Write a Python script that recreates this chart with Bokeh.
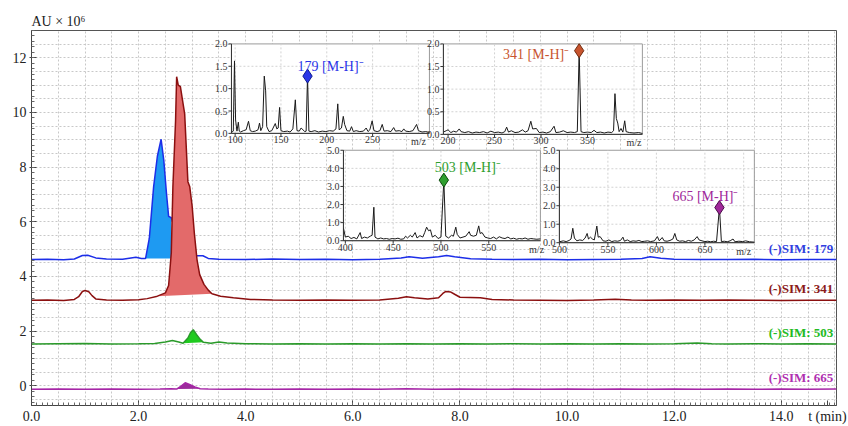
import numpy as np
from bokeh.plotting import figure
from bokeh.models import Range1d, SingleIntervalTicker, FixedTicker, PrintfTickFormatter
from bokeh.core.properties import value
from bokeh.embed import file_html
from bokeh.resources import INLINE

# ---------------- chromatogram data (t in min, AU x 1e6) ----------------
BLUE_T = [0.0, 0.3, 0.6, 0.8, 0.95, 1.05, 1.2, 1.4, 1.7, 1.95, 2.05, 2.13, 2.2, 2.28, 2.35, 2.42, 2.47, 2.52, 2.56, 2.61,
          2.7, 2.85, 3.0, 3.09, 3.2, 3.3, 3.5, 4.0, 4.5, 5.0, 5.5, 6.0, 6.5, 6.9, 7.05, 7.3, 7.6, 7.75, 7.9, 8.2,
          8.6, 9.0, 9.5, 10.0, 10.5, 11.0, 11.4, 11.55, 11.75, 12.0, 12.5, 13.0, 13.5, 14.0, 14.5, 15.03]
BLUE_V = [4.62, 4.63, 4.61, 4.64, 4.77, 4.78, 4.68, 4.64, 4.63, 4.70, 4.66, 4.66, 5.4, 7.28, 8.4, 9.02, 8.25, 7.04, 6.2, 6.15,
          5.6, 5.1, 4.85, 4.76, 4.76, 4.66, 4.63, 4.62, 4.64, 4.62, 4.63, 4.61, 4.63, 4.68, 4.72, 4.67, 4.72, 4.77, 4.72, 4.65,
          4.63, 4.62, 4.63, 4.61, 4.62, 4.63, 4.66, 4.72, 4.67, 4.63, 4.62, 4.62, 4.63, 4.61, 4.62, 4.62]

RED_T = [0.0, 0.3, 0.6, 0.8, 0.88, 0.95, 1.0, 1.07, 1.13, 1.2, 1.4, 1.7, 2.0, 2.16, 2.35, 2.5, 2.56, 2.61, 2.64, 2.69,
         2.71, 2.74, 2.78, 2.82, 2.86, 2.92, 2.955, 3.0, 3.04, 3.09, 3.14, 3.22, 3.3, 3.37, 3.53, 3.77, 4.09, 4.5, 5.0, 5.5,
         6.0, 6.5, 6.85, 7.0, 7.15, 7.4, 7.6, 7.68, 7.73, 7.83, 7.9, 8.0, 8.38, 8.6, 9.0, 9.5, 10.0, 10.5, 10.9, 11.2,
         11.5, 12.0, 12.5, 13.0, 13.5, 14.0, 14.5, 15.03]
RED_V = [3.13, 3.14, 3.12, 3.16, 3.26, 3.45, 3.49, 3.44, 3.3, 3.18, 3.14, 3.13, 3.15, 3.19, 3.28, 3.40, 3.67, 4.86, 7.28, 9.71,
         11.31, 11.0, 10.95, 10.44, 9.95, 7.47, 7.28, 6.56, 5.59, 4.62, 4.07, 3.71, 3.5, 3.37, 3.28, 3.22, 3.16, 3.14, 3.13, 3.14,
         3.13, 3.14, 3.2, 3.26, 3.22, 3.18, 3.22, 3.38, 3.45, 3.43, 3.35, 3.24, 3.22, 3.16, 3.14, 3.13, 3.12, 3.14, 3.17, 3.14,
         3.13, 3.14, 3.13, 3.14, 3.13, 3.12, 3.13, 3.13]

GREEN_T = [0.0, 0.5, 1.0, 1.5, 2.0, 2.3, 2.5, 2.63, 2.75, 2.83, 2.92, 2.97, 3.02, 3.08, 3.15, 3.21, 3.35, 3.5, 3.65, 4.0,
           4.5, 5.0, 5.5, 6.0, 6.5, 7.0, 7.5, 8.0, 8.5, 9.0, 9.5, 10.0, 10.5, 11.0, 11.5, 12.0, 12.43, 12.7, 13.0, 13.5,
           14.0, 14.5, 15.03]
GREEN_V = [1.53, 1.54, 1.55, 1.53, 1.54, 1.55, 1.60, 1.66, 1.60, 1.56, 1.75, 1.95, 2.05, 1.88, 1.70, 1.59, 1.56, 1.60, 1.57, 1.54,
           1.53, 1.54, 1.53, 1.54, 1.53, 1.54, 1.53, 1.54, 1.53, 1.54, 1.53, 1.54, 1.53, 1.54, 1.53, 1.54, 1.57, 1.54, 1.53, 1.54,
           1.53, 1.54, 1.53]

PURPLE_T = [0.0, 0.5, 1.0, 1.5, 2.0, 2.4, 2.6, 2.71, 2.8, 2.87, 2.95, 3.05, 3.15, 3.3, 3.6, 4.0, 4.5, 5.0, 5.5, 6.0,
            6.5, 7.0, 7.5, 8.0, 8.5, 9.0, 9.5, 10.0, 10.5, 11.0, 11.5, 12.0, 12.5, 13.0, 13.5, 14.0, 14.5, 15.03]
PURPLE_V = [-0.13, -0.12, -0.13, -0.12, -0.13, -0.12, -0.11, -0.12, 0.0, 0.11, 0.05, -0.04, -0.11, -0.12, -0.13, -0.12, -0.13, -0.12, -0.13, -0.12,
            -0.13, -0.11, -0.13, -0.12, -0.13, -0.12, -0.13, -0.12, -0.13, -0.12, -0.13, -0.12, -0.13, -0.12, -0.13, -0.12, -0.13, -0.12]

SIM_LABELS = ["(-)SIM: 179", "(-)SIM: 341", "(-)SIM: 503", "(-)SIM: 665"]
X_TICKS = [0, 2, 4, 6, 8, 10, 12, 14]
X_UNIT_LABEL = "t (min)"

# ---------------- mass spectra (m/z, intensity) ----------------
MS179_MZ = [96, 98, 99.3, 100.5, 102, 103.5, 104.5, 106, 109, 112, 114.6, 116.5, 119, 122, 125, 126.6, 128, 130, 131.8, 133.3,
            134.5, 137, 140, 143.8, 145.5, 147, 148.5, 150, 153, 157, 160, 163, 165.7, 167.5, 170, 172, 174, 176, 177.5, 179,
            180.5, 183, 187, 191, 195, 199, 203, 207, 210, 212, 213.5, 216, 218, 219.5, 222, 225, 227, 229, 232, 236,
            240, 243, 245, 247, 249.5, 251.5, 255, 258, 260.5, 262.5, 266, 270, 273, 275, 279, 282, 284, 286, 290, 294,
            298, 300, 304, 308, 312]
MS179_I = [0.02, 0.05, 1.62, 0.3, 0.05, 0.25, 0.05, 0.03, 0.06, 0.08, 0.27, 0.06, 0.04, 0.05, 0.08, 0.23, 0.06, 0.15, 1.28, 0.95,
           0.15, 0.04, 0.06, 0.22, 0.1, 0.12, 0.58, 0.06, 0.04, 0.05, 0.03, 0.1, 0.75, 0.06, 0.05, 0.12, 0.08, 0.04, 0.05, 1.28,
           0.05, 0.04, 0.06, 0.03, 0.05, 0.04, 0.06, 0.05, 0.1, 0.66, 0.08, 0.12, 0.38, 0.2, 0.06, 0.05, 0.15, 0.04, 0.06, 0.04,
           0.05, 0.12, 0.04, 0.08, 0.28, 0.06, 0.04, 0.06, 0.2, 0.05, 0.06, 0.04, 0.13, 0.05, 0.06, 0.04, 0.1, 0.05, 0.04, 0.06,
           0.2, 0.06, 0.03, 0.04, 0.02]

MS341_MZ = [195, 198, 200, 203, 206, 209, 212, 214, 218, 222, 226, 230, 234, 238, 242, 246, 250, 254, 258, 261,
            263, 265, 268, 272, 276, 280, 283, 286, 289, 291, 295, 298, 302, 306, 310, 314, 316, 320, 324, 328,
            332, 336, 339, 341, 343, 346, 350, 354, 357, 360, 364, 368, 372, 376, 378, 379.5, 381, 382.5, 384, 386,
            388, 390, 391.5, 395, 400, 405, 409]
MS341_I = [0.05, 0.08, 0.1, 0.04, 0.07, 0.05, 0.12, 0.06, 0.04, 0.06, 0.03, 0.05, 0.04, 0.06, 0.03, 0.07, 0.04, 0.05, 0.03, 0.06,
           0.16, 0.05, 0.08, 0.04, 0.05, 0.1, 0.05, 0.08, 0.29, 0.12, 0.13, 0.04, 0.05, 0.03, 0.06, 0.18, 0.04, 0.05, 0.08, 0.04,
           0.05, 0.04, 0.06, 1.85, 0.06, 0.04, 0.05, 0.04, 0.09, 0.04, 0.05, 0.03, 0.05, 0.04, 0.08, 0.9, 0.35, 0.25, 0.06, 0.13,
           0.05, 0.3, 0.06, 0.04, 0.03, 0.04, 0.02]

MS503_MZ = [398, 400, 403, 406, 409, 412, 415.5, 417, 420, 423, 426, 428, 429.8, 431, 434, 437, 440, 443, 446, 449,
            452, 455, 458, 461, 463, 465, 468, 470, 473, 475, 478, 481, 483, 485, 487, 489, 491, 494, 497, 500,
            503, 505, 508, 511, 513, 515.5, 517, 520, 523, 526, 529.5, 531, 534, 537, 539.5, 541, 543, 546, 549, 552,
            555, 558, 561, 564, 567, 570, 573, 576, 579, 582, 585, 588, 591, 594, 597, 600, 604]
MS503_I = [0.7, 0.2, 0.25, 0.12, 0.18, 0.1, 0.45, 0.12, 0.2, 0.15, 0.25, 0.3, 1.85, 0.2, 0.1, 0.15, 0.1, 0.12, 0.08, 0.12,
           0.1, 0.14, 0.08, 0.1, 0.25, 0.15, 0.3, 0.2, 0.45, 0.15, 0.28, 0.2, 0.45, 0.75, 0.55, 0.6, 0.2, 0.3, 0.12, 0.2,
           3.35, 0.25, 0.15, 0.3, 0.25, 0.75, 0.35, 0.15, 0.2, 0.25, 0.5, 0.3, 0.25, 0.3, 0.82, 0.4, 0.45, 0.2, 0.15, 0.12,
           0.2, 0.1, 0.22, 0.15, 0.12, 0.2, 0.1, 0.14, 0.08, 0.12, 0.1, 0.15, 0.08, 0.12, 0.1, 0.08, 0.1]

MS665_MZ = [500, 504, 507, 510, 512, 513.8, 515.5, 518, 521, 524, 526.5, 528.6, 530, 532, 534, 536, 538.6, 540, 542, 545,
            548, 551, 554, 557, 560, 563, 565.5, 567, 570, 573, 576, 579, 582, 585, 588, 591, 594, 598, 601, 603,
            606, 608, 611, 614, 617, 619, 621, 624, 627, 630, 633, 636, 639, 642, 644, 647, 650, 653, 656, 659,
            662, 665, 667, 670, 673, 676, 679, 681, 685, 689, 692, 696, 701]
MS665_I = [0.05, 0.1, 0.06, 0.12, 0.2, 0.78, 0.25, 0.1, 0.15, 0.12, 0.25, 0.5, 0.2, 0.3, 0.2, 0.15, 0.9, 0.3, 0.33, 0.1,
           0.08, 0.15, 0.06, 0.1, 0.08, 0.12, 0.3, 0.08, 0.15, 0.06, 0.1, 0.08, 0.12, 0.06, 0.08, 0.1, 0.06, 0.1, 0.33, 0.1,
           0.28, 0.1, 0.08, 0.12, 0.2, 0.5, 0.15, 0.08, 0.1, 0.06, 0.12, 0.08, 0.15, 0.33, 0.15, 0.1, 0.06, 0.08, 0.05, 0.08,
           0.06, 1.9, 0.06, 0.08, 0.05, 0.1, 0.2, 0.05, 0.08, 0.06, 0.1, 0.05, 0.03]

PEAK_MZ = [179, 341, 503, 665]
PEAK_I = [1.28, 1.85, 3.35, 1.9]
PEAK_LABELS = ["179 [M-H]\u207b", "341 [M-H]\u207b", "503 [M-H]\u207b", "665 [M-H]\u207b"]

SERIF = "Liberation Serif"

# ---------------- main figure ----------------
p = figure(width=848, height=426, x_range=Range1d(0, 15.03), y_range=Range1d(-0.72, 13.0),
           output_backend="svg", toolbar_location=None,
           min_border_left=31, min_border_right=12, min_border_top=30, min_border_bottom=0)
p.title.text = "AU \u00d7 10\u2076"
p.title.text_font = SERIF
p.title.text_font_size = "14px"
p.title.text_font_style = "normal"
p.title.text_color = "#222222"
p.title.align = "left"
p.title.standoff = 4
p.outline_line_color = "#555555"

# unit label sits in the tick-label row, right of the last tick
UNIT_POS = 14.86
p.xaxis.ticker = FixedTicker(ticks=X_TICKS + [UNIT_POS], minor_ticks=[i / 10 for i in range(0, 151)])
p.xaxis.major_label_overrides = {UNIT_POS: X_UNIT_LABEL}
p.yaxis.ticker = SingleIntervalTicker(interval=2, num_minor_ticks=10)
p.xaxis.formatter = PrintfTickFormatter(format="%.1f")
for ax in (p.xaxis, p.yaxis):
    ax.major_label_text_font = SERIF
    ax.major_label_text_font_size = "14px"
    ax.major_label_text_color = "#222222"
    ax.axis_line_color = "#444444"
    ax.major_tick_line_color = "#444444"
    ax.minor_tick_line_color = "#666666"
    ax.major_tick_in = 5
    ax.minor_tick_in = 3
    ax.minor_tick_out = 0
p.xaxis.major_tick_out = 0
p.xaxis.major_label_standoff = 3
p.yaxis.major_tick_out = 2
p.yaxis.major_label_standoff = 3

p.xgrid.ticker = SingleIntervalTicker(interval=0.5)
p.ygrid.ticker = SingleIntervalTicker(interval=0.5)
for g in (p.xgrid, p.ygrid):
    g.grid_line_color = "#c8c8c8"
    g.grid_line_dash = "2 2"
    g.grid_line_width = 1


def window(ts, vs, t0, t1):
    xs = [t for t in ts if t0 <= t <= t1]
    ys = [v for t, v in zip(ts, vs) if t0 <= t <= t1]
    return xs, ys


# blue (179)
bx, by = window(BLUE_T, BLUE_V, 2.13, 2.61)
p.patch(bx + [bx[-1]], by + [by[0]], fill_color="#1e9af2", line_color=None)
p.line(BLUE_T, BLUE_V, line_color="#1c2ee8", line_width=1.5)
# red (341)
rx, ry = window(RED_T, RED_V, 2.35, 3.37)
p.patch(rx, ry, fill_color="#e36a6a", line_color=None)
p.line(RED_T, RED_V, line_color="#8b1010", line_width=1.5)
# green (503)
gx, gy = window(GREEN_T, GREEN_V, 2.83, 3.21)
p.patch(gx, gy, fill_color="#1fcb1f", line_color=None)
p.line(GREEN_T, GREEN_V, line_color="#2a9a2a", line_width=1.5)
# purple (665)
mx, my = window(PURPLE_T, PURPLE_V, 2.71, 3.15)
p.patch(mx, my, fill_color="#9c2c9c", line_color=None)
p.line(PURPLE_T, PURPLE_V, line_color="#a626a6", line_width=1.5)

sim_colors = ["#3040e0", "#8b1a1a", "#22bb22", "#b030b0"]
last_vals = [BLUE_V[-1], RED_V[-1], GREEN_V[-1], PURPLE_V[-1]]
p.text(x=[14.97] * 4, y=last_vals, text=SIM_LABELS, text_color=sim_colors,
       text_align="right", text_baseline="bottom", y_offset=-4,
       text_font=value(SERIF), text_font_size="13px", text_font_style="bold")


# ---------------- insets ----------------
def px_t(px):
    return (px - 31.0) / 53.57


def px_v(py):
    return (387.0 - py) / 27.5


def inset(mz, inten, xlo, xhi, ymax, yticks, xticks, mzlab_x, box, k, color, edge,
          lbl_align, lbl_dx, lbl_dy, lbl_base):
    l, r, t, b = box
    sub = p.subplot(x_source=Range1d(xlo, xhi), y_source=Range1d(0, ymax),
                    x_target=Range1d(px_t(l), px_t(r)), y_target=Range1d(px_v(b), px_v(t)))
    sub.quad(left=[xlo], right=[xhi], bottom=[0], top=[ymax], fill_color="white",
             line_color="#9a9a9a", line_width=1)
    gxs = [x for x in xticks + [mzlab_x] if xlo < x < xhi]
    sub.segment(x0=gxs, y0=[0] * len(gxs), x1=gxs, y1=[ymax] * len(gxs),
                line_color="#d2d2d2", line_dash="2 2", line_width=1)
    gys = [y for y in yticks if 0 < y < ymax]
    sub.segment(x0=[xlo] * len(gys), y0=gys, x1=[xhi] * len(gys), y1=gys,
                line_color="#d2d2d2", line_dash="2 2", line_width=1)
    sub.line(mz, inten, line_color="#1a1a1a", line_width=1)
    sub.segment(x0=[xlo, xlo], y0=[0, 0], x1=[xlo, xhi], y1=[ymax, 0], line_color="#333333", line_width=1)
    sub.ray(x=[xlo] * len(yticks), y=yticks, length=3, length_units="screen", angle=np.pi,
            line_color="#333333")
    sub.ray(x=xticks, y=[0] * len(xticks), length=3, length_units="screen", angle=-np.pi / 2,
            line_color="#333333")
    sub.text(x=[xlo] * len(yticks), y=yticks, text=["%.1f" % v for v in yticks],
             text_align="right", text_baseline="middle", x_offset=-4,
             text_font=value(SERIF), text_font_size="10px", text_color="#333333")
    sub.text(x=xticks, y=[0] * len(xticks), text=[str(v) for v in xticks],
             text_align="center", text_baseline="top", y_offset=3,
             text_font=value(SERIF), text_font_size="10px", text_color="#333333")
    sub.text(x=[mzlab_x], y=[0], text=["m/z"], text_align="center", text_baseline="top", y_offset=3,
             text_font=value(SERIF), text_font_size="10px", text_color="#333333")
    sub.scatter(x=[PEAK_MZ[k]], y=[PEAK_I[k]], marker="diamond", size=14,
                fill_color=color, line_color=edge, line_width=1)
    sub.text(x=[PEAK_MZ[k]], y=[PEAK_I[k]], text=[PEAK_LABELS[k]], text_color=color,
             text_align=lbl_align, text_baseline=lbl_base, x_offset=lbl_dx, y_offset=lbl_dy,
             text_font=value(SERIF), text_font_size="14px")


inset(MS179_MZ, MS179_I, 96, 312, 2.0, [0.0, 0.5, 1.0, 1.5, 2.0], [100, 150, 200, 250], 300,
      (231, 429, 43, 133), 0, "#2a36e8", "#0a1a90", "left", -10, -10, "alphabetic")
inset(MS341_MZ, MS341_I, 195, 409, 2.0, [0.0, 0.5, 1.0, 1.5, 2.0], [200, 250, 300, 350], 400,
      (443, 642, 43, 134), 1, "#c8542e", "#6e2a0e", "right", -10, 4, "middle")
inset(MS503_MZ, MS503_I, 398, 604, 5.0, [0.0, 1.0, 2.0, 3.0, 4.0, 5.0], [400, 450, 500, 550], 600,
      (343, 540, 150, 241), 2, "#2e9e2e", "#0a4a0a", "left", -9, -13, "alphabetic")
inset(MS665_MZ, MS665_I, 500, 701, 5.0, [0.0, 1.0, 2.0, 3.0, 4.0, 5.0], [500, 550, 600, 650], 690,
      (559, 754, 150, 243), 3, "#a0289a", "#4a0a4a", "right", 19, -11, "alphabetic")

open("out.html", "w").write(file_html(p, INLINE))
